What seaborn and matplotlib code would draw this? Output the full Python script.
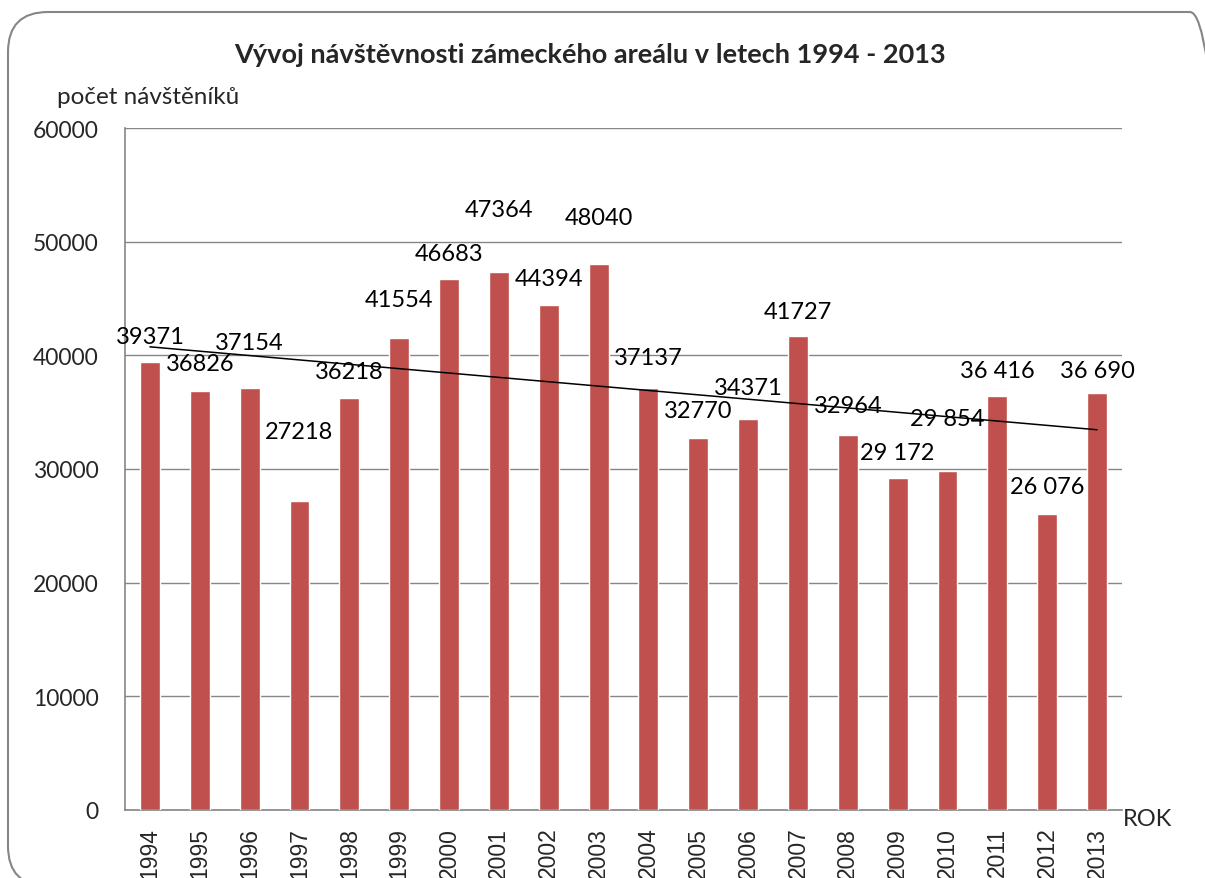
import numpy as np
import pandas as pd
import matplotlib.pyplot as plt
import seaborn as sns
from matplotlib.patches import FancyBboxPatch
from matplotlib.transforms import IdentityTransform

# data
roky = [str(r) for r in range(1994, 2014)]
navstevnost = [39371, 36826, 37154, 27218, 36218, 41554, 46683, 47364, 44394, 48040,
               37137, 32770, 34371, 41727, 32964, 29172, 29854, 36416, 26076, 36690]
popisky = ['39371', '36826', '37154', '27218', '36218', '41554', '46683', '47364', '44394', '48040',
           '37137', '32770', '34371', '41727', '32964', '29 172', '29 854', '36 416', '26 076', '36 690']
# kde stoji popisky (rucne posunute jako v excelu)
popisky_y = [41700, 39240, 41170, 33340, 38620, 44870, 49000, 52870, 46800, 52170,
             39850, 35190, 37210, 43900, 35630, 31490, 34400, 38700, 28420, 38700]

df = pd.DataFrame({'rok': roky, 'pocet': navstevnost})

sns.set_style('white')
plt.rcParams['font.family'] = ['Lato', 'DejaVu Sans']

fig = plt.figure(figsize=(12.05, 8.79), dpi=100)
ax = fig.add_axes([125/1205, 1 - 811/879, 997/1205, 682/879])

sns.barplot(data=df, x='rok', y='pocet', color='#C0504D', width=0.4, saturation=1, ax=ax, zorder=3)

# linearni trend
xs = np.arange(len(navstevnost))
k, q = np.polyfit(xs, navstevnost, 1)
ax.plot([0, len(xs) - 1], [q, k * (len(xs) - 1) + q], color='black', lw=1.1, zorder=4)

for i, (lbl, yy) in enumerate(zip(popisky, popisky_y)):
    ax.text(i, yy, lbl, ha='center', va='center', fontsize=17, color='black', zorder=5)

ax.set_xlim(-0.5, len(roky) - 0.5)
ax.set_ylim(0, 60000)
ax.set_yticks(range(0, 60001, 10000))
ax.yaxis.grid(True, color='#868686', lw=1)
ax.set_axisbelow(True)
for s in ['top', 'right']:
    ax.spines[s].set_visible(False)
for s in ['left', 'bottom']:
    ax.spines[s].set_color('#868686')
    ax.spines[s].set_linewidth(1.2)

ax.set_xticks(np.arange(-0.5, len(roky), 1), minor=True)
ax.tick_params(axis='x', which='minor', length=7, color='#868686', width=1.2)
ax.tick_params(axis='x', which='major', length=0, pad=12)
ax.tick_params(axis='y', length=7, color='#868686', width=1.2, labelsize=16.5, pad=12)
ax.set_xticks(xs)
ax.set_xticklabels(roky, rotation=90, fontsize=16.5, family=['Liberation Sans'], va='top')
ax.set_xlabel('')
ax.set_ylabel('')

fig.text(590/1205, 1 - 55/879, 'Vývoj návštěvnosti zámeckého areálu v letech 1994 - 2013',
         ha='center', va='center', fontsize=19.5, fontweight='bold')
fig.text(57/1205, 1 - 97/879, 'počet návštěníků', ha='left', va='center', fontsize=17.5)
fig.text(1123/1205, 1 - 820/879, 'ROK', ha='left', va='center', fontsize=17)

# zaobleny ramecek okolo grafu (v pixelech, at jsou rohy kulate)
ram = FancyBboxPatch((8, -8), 1222, 874,
                     boxstyle='round,pad=0,rounding_size=40', transform=IdentityTransform(),
                     fill=False, edgecolor='#868686', lw=1.5, clip_on=False)
fig.patches.append(ram)

fig.savefig('out.png', dpi=100)
